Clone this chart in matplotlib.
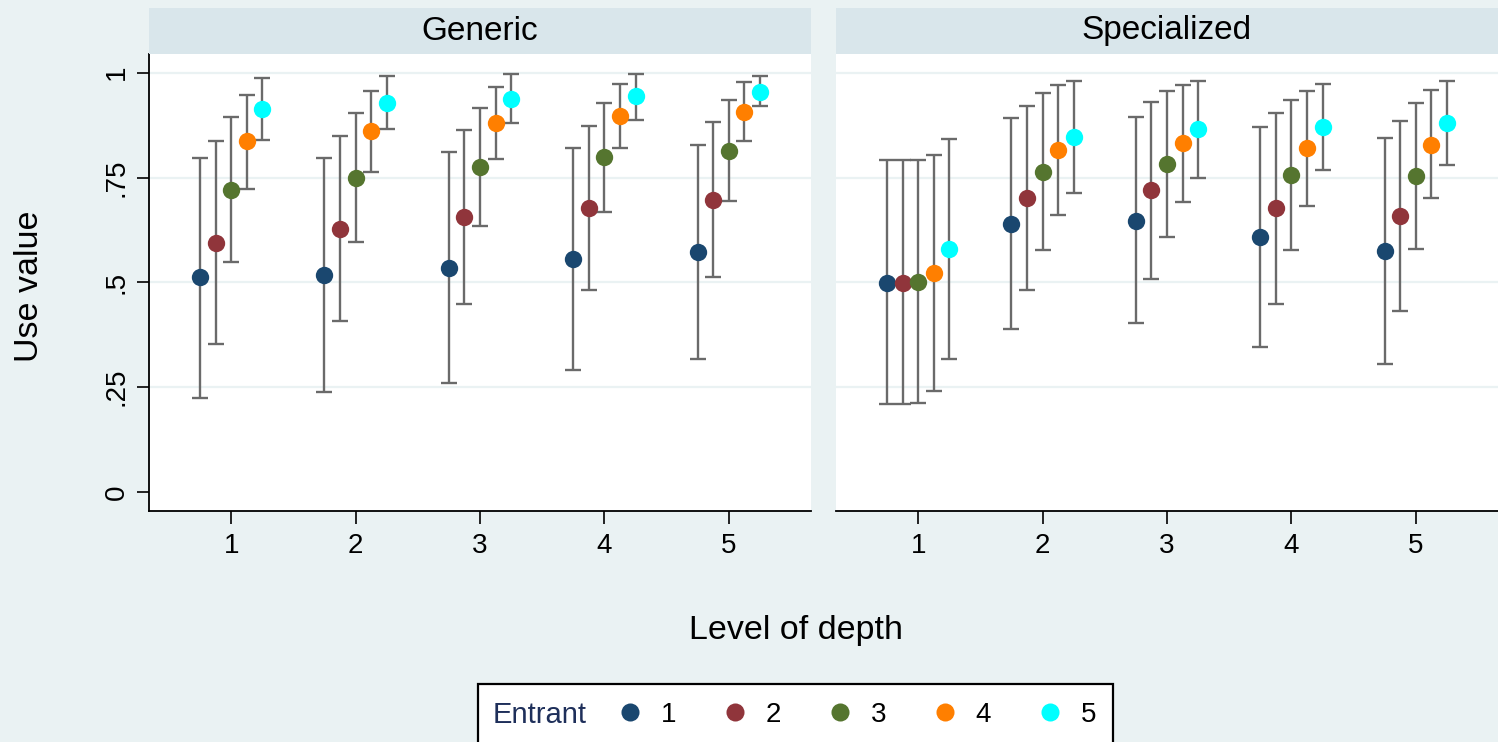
import numpy as np
import matplotlib.pyplot as plt
from matplotlib.lines import Line2D
from matplotlib.patches import Rectangle

plt.rcParams['font.family'] = ['Liberation Sans', 'DejaVu Sans']

levels = np.array([1, 2, 3, 4, 5])
entrants = [1, 2, 3, 4, 5]
panels = ["Generic", "Specialized"]
colors = ["#1a476f", "#90353b", "#55752f", "#ff7f00", "#00ffff"]

# mean use value, one row per entrant, columns = level of depth
generic_mean = [
    [0.512, 0.518, 0.535, 0.555, 0.572],
    [0.595, 0.628, 0.656, 0.678, 0.696],
    [0.721, 0.750, 0.776, 0.798, 0.813],
    [0.836, 0.860, 0.879, 0.897, 0.906],
    [0.913, 0.928, 0.938, 0.944, 0.955],
]
generic_lo = [
    [0.225, 0.238, 0.261, 0.290, 0.317],
    [0.353, 0.407, 0.448, 0.482, 0.512],
    [0.549, 0.597, 0.635, 0.667, 0.693],
    [0.722, 0.764, 0.793, 0.820, 0.836],
    [0.840, 0.865, 0.881, 0.887, 0.920],
]
generic_hi = [
    [0.796, 0.797, 0.811, 0.820, 0.827],
    [0.838, 0.849, 0.863, 0.874, 0.882],
    [0.894, 0.904, 0.917, 0.928, 0.934],
    [0.948, 0.957, 0.967, 0.973, 0.977],
    [0.987, 0.992, 0.997, 0.998, 0.991],
]

special_mean = [
    [0.499, 0.639, 0.647, 0.609, 0.574],
    [0.499, 0.701, 0.720, 0.677, 0.659],
    [0.501, 0.764, 0.782, 0.756, 0.754],
    [0.523, 0.816, 0.832, 0.820, 0.828],
    [0.579, 0.847, 0.865, 0.870, 0.880],
]
special_lo = [
    [0.210, 0.388, 0.402, 0.346, 0.305],
    [0.210, 0.481, 0.509, 0.448, 0.431],
    [0.213, 0.578, 0.609, 0.576, 0.579],
    [0.240, 0.660, 0.691, 0.682, 0.701],
    [0.317, 0.714, 0.749, 0.769, 0.781],
]
special_hi = [
    [0.792, 0.891, 0.894, 0.871, 0.844],
    [0.792, 0.921, 0.930, 0.905, 0.885],
    [0.792, 0.951, 0.956, 0.936, 0.928],
    [0.803, 0.971, 0.971, 0.957, 0.958],
    [0.841, 0.980, 0.981, 0.973, 0.980],
]

yticks = [0, 0.25, 0.5, 0.75, 1]
ytick_labels = ["0", ".25", ".5", ".75", "1"]

W, H = 1498, 742
BG = "#eaf2f3"
STRIP = "#d9e6eb"

fig = plt.figure(figsize=(W / 100, H / 100), dpi=100, facecolor=BG)


def fx(px):
    return px / W


def fy(py):
    return 1 - py / H


data = [(generic_mean, generic_lo, generic_hi),
        (special_mean, special_lo, special_hi)]
lefts = [149, 836]
pw = 662

for k, (name, (means, los, his)) in enumerate(zip(panels, data)):
    ax = fig.add_axes([fx(lefts[k]), fy(511), pw / W, 457 / H])
    ax.set_facecolor("white")
    for i, e in enumerate(entrants):
        x = levels + (e - 3) * 0.125
        m = np.array(means[i])
        lo = np.array(los[i])
        hi = np.array(his[i])
        ax.errorbar(x, m, yerr=[m - lo, hi - m], fmt="none", ecolor="#6a6a6a",
                    elinewidth=1.7, capsize=5.5, capthick=1.7, zorder=2)
        ax.plot(x, m, "o", color=colors[i], markersize=12.5, mec="none", zorder=3)

    ax.set_xlim(0.34, 5.66)
    ax.set_ylim(-0.0453, 1.0446)
    ax.set_xticks(levels)
    ax.set_yticks(yticks)
    ax.set_yticklabels(ytick_labels, rotation=90, va="center")
    ax.grid(axis="y", color=BG, linewidth=1.6, zorder=0)
    ax.get_ygridlines()[0].set_visible(False)
    ax.set_axisbelow(True)
    for s in ["top", "right"]:
        ax.spines[s].set_visible(False)
    ax.spines["bottom"].set_linewidth(1.3)
    ax.spines["left"].set_linewidth(1.3)
    ax.tick_params(axis="x", length=9, width=1.2, pad=7, labelsize=20)
    ax.tick_params(axis="y", length=9, width=1.2, pad=5, labelsize=20)
    if k == 1:
        ax.spines["left"].set_visible(False)
        ax.tick_params(axis="y", left=False, labelleft=False)

    sax = fig.add_axes([fx(lefts[k]), fy(54), pw / W, 46 / H])
    sax.set_facecolor(STRIP)
    sax.set_xticks([])
    sax.set_yticks([])
    for s in sax.spines.values():
        s.set_visible(False)
    sax.text(0.5, 0.5, name, ha="center", va="center", fontsize=24,
             transform=sax.transAxes)

fig.text(fx(796), fy(639), "Level of depth", ha="center", va="baseline", fontsize=24.5)
fig.text(fx(30), fy(286), "Use value", ha="center", va="center", rotation=90, fontsize=24.5)

# legend box
fig.patches.append(Rectangle((fx(478), fy(760)), (1113 - 478) / W, (760 - 684) / H,
                             transform=fig.transFigure, facecolor="white",
                             edgecolor="black", linewidth=1.6, zorder=1))
fig.text(fx(493), fy(715), "Entrant", ha="left", va="center", fontsize=21,
         color="#1e2f5a", zorder=3)
handles = [Line2D([], [], marker="o", linestyle="none", color=c, mec="none",
                  markersize=13) for c in colors]
leg = fig.legend(handles, [str(e) for e in entrants], loc="center left",
                 bbox_to_anchor=(fx(616), fy(715)), ncol=5, frameon=False,
                 fontsize=20, handlelength=1.0, handletextpad=0.62,
                 columnspacing=1.60, borderpad=0, borderaxespad=0)
leg.set_zorder(3)

fig.savefig("out.png", dpi=100, facecolor=BG)
